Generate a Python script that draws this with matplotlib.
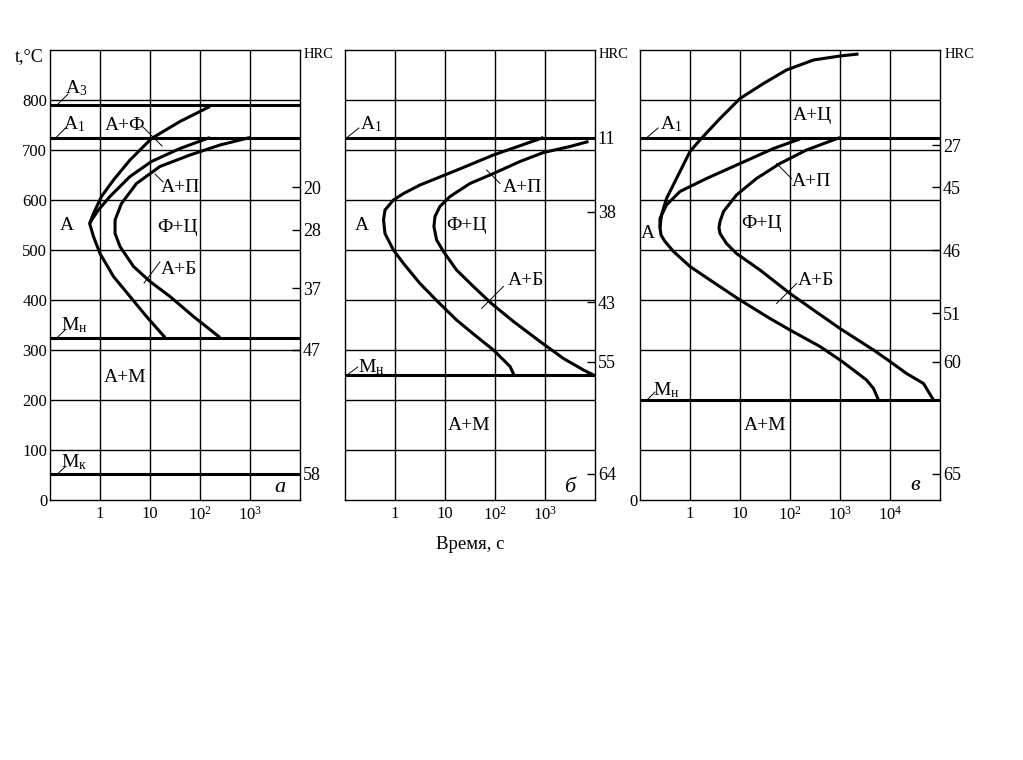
import matplotlib
matplotlib.use('Agg')
import matplotlib.pyplot as plt
from matplotlib.ticker import NullLocator

plt.rcParams['font.family'] = ['Liberation Serif', 'DejaVu Serif']
plt.rcParams['mathtext.fontset'] = 'custom'
plt.rcParams['mathtext.rm'] = 'Liberation Serif'
plt.rcParams['mathtext.it'] = 'Liberation Serif:italic'

# ---------------- data ----------------
temp_ticks = [0, 100, 200, 300, 400, 500, 600, 700, 800]
temp_grid = [100, 200, 300, 400, 500, 600, 700, 800]

x_ticks_ab = [1, 10, 100, 1000]
x_labels_ab = ['1', '10', r'$\mathregular{10^2}$', r'$\mathregular{10^3}$']
x_ticks_c = [1, 10, 100, 1000, 10000]
x_labels_c = ['1', '10', r'$\mathregular{10^2}$', r'$\mathregular{10^3}$', r'$\mathregular{10^4}$']

# panel a
a_A3 = 790
a_A1 = 725
a_Mn = 325
a_Mk = 52
a_start1_t = [158, 39.8, 10.7, 3.98, 1.86, 1.07, 0.74, 0.62, 0.74, 1.0, 1.86, 3.98, 8.5, 20]
a_start1_T = [787, 757, 723, 680, 640, 607, 573, 553, 527, 493, 447, 407, 367, 325]
a_start2_t = [158, 39.8, 10.7, 3.98, 1.58, 0.93, 0.68, 0.62]
a_start2_T = [725, 703, 677, 647, 607, 580, 560, 553]
a_end_t = [1000, 251, 63, 15.8, 5.37, 2.69, 2.0, 2.0, 2.51, 4.68, 10, 25.1, 74, 251]
a_end_T = [725, 710, 690, 667, 633, 593, 560, 533, 507, 467, 437, 407, 367, 325]
a_hrc_T = [626, 540, 424, 300, 52]
a_hrc = ['20', '28', '37', '47', '58']

# panel b
b_A1 = 725
b_Mn = 250
b_start_t = [933, 93, 14.8, 3.16, 1.48, 0.93, 0.63, 0.59, 0.63, 0.93, 1.48, 3.16, 6.8,
             17, 42.7, 93, 148, 200, 240]
b_start_T = [725, 690, 657, 630, 613, 600, 580, 560, 533, 500, 473, 433, 399,
             360, 327, 300, 280, 267, 250]
b_end_t = [7400, 3160, 933, 316, 93, 31.6, 12.6, 7.9, 6.3, 6.0, 6.8, 9.3, 17, 37, 85,
           234, 794, 2340, 5890, 9330]
b_end_T = [717, 707, 695, 677, 653, 633, 607, 587, 567, 547, 520, 497, 460, 427, 393,
           357, 317, 283, 260, 250]
b_hrc_T = [724, 576, 396, 276, 52]
b_hrc = ['11', '38', '43', '55', '64']

# panel c
c_A1 = 725
c_Mn = 200
c_start1_t = [2340, 1000, 295, 85, 29.5, 10, 3.98, 1.58, 1.0, 0.537, 0.339, 0.269, 0.251,
              0.263, 0.316, 0.468, 1.0, 2.51, 10, 39.8, 100, 398, 1000, 1860, 3390, 4680, 5890]
c_start1_T = [892, 888, 880, 860, 833, 803, 763, 720, 697, 643, 603, 570, 545,
              530, 517, 497, 467, 440, 400, 363, 340, 307, 280, 260, 240, 223, 200]
c_start2_t = [158, 46.8, 10, 2.14, 0.63, 0.339, 0.251, 0.251]
c_start2_T = [722, 703, 673, 643, 617, 590, 563, 545]
c_end_t = [1000, 214, 63, 21.4, 8.5, 4.68, 3.98, 3.8, 3.98, 5.37, 8.5, 25.1, 100, 295,
           1000, 4680, 10000, 21400, 46800, 74100]
c_end_T = [725, 700, 673, 643, 610, 577, 557, 545, 533, 513, 493, 460, 413, 380,
           343, 300, 277, 253, 233, 200]
c_hrc_T = [710, 626, 500, 374, 276, 52]
c_hrc = ['27', '45', '46', '51', '60', '65']

# ---------------- figure ----------------
W, H = 1023, 760
fig = plt.figure(figsize=(W / 100, H / 100), dpi=100)

CURVE_LW = 2.2
GRID_LW = 1.0
FS_TICK = 12
FS_HRC = 13
FS_LAB = 14


def make_axes(left_px, width_px, xmax, xticks, xlabels, hrc_T, hrc_lab, show_left):
    ax = fig.add_axes([left_px / W, (H - 500) / H, width_px / W, 450 / H])
    ax.set_xscale('log')
    ax.set_xlim(0.1, xmax)
    ax.set_ylim(0, 900)
    ax.xaxis.set_minor_locator(NullLocator())
    ax.yaxis.set_minor_locator(NullLocator())
    ax.set_xticks(xticks)
    ax.set_xticklabels(xlabels, fontsize=FS_TICK)
    for xv in xticks:
        ax.axvline(xv, color='black', lw=GRID_LW, zorder=1)
    for yv in temp_grid:
        ax.axhline(yv, color='black', lw=GRID_LW, zorder=1)
    if show_left == 'all':
        ax.set_yticks(temp_ticks)
        ax.set_yticklabels([str(v) for v in temp_ticks], fontsize=FS_TICK)
    elif show_left == 'zero':
        ax.set_yticks([0])
        ax.set_yticklabels(['0'], fontsize=FS_TICK)
    else:
        ax.set_yticks([])
    ax.tick_params(axis='x', length=0, pad=4)
    ax.tick_params(axis='y', length=0, pad=2)
    for s in ax.spines.values():
        s.set_linewidth(1.0)
    ax2 = ax.twinx()
    ax2.set_ylim(0, 900)
    ax2.yaxis.set_minor_locator(NullLocator())
    ax2.set_yticks(hrc_T)
    ax2.set_yticklabels(hrc_lab, fontsize=FS_HRC)
    ax2.tick_params(axis='y', direction='in', length=6, width=1.0, pad=2)
    for s in ax2.spines.values():
        s.set_visible(False)
    ax.text(1.015, (900 - 9) / 900, 'HRC', transform=ax.transAxes, ha='left', va='center',
            fontsize=10.5)
    return ax


def hline(ax, y):
    ax.axhline(y, color='black', lw=CURVE_LW, zorder=3)


def curve(ax, t, T):
    ax.plot(t, T, color='black', lw=CURVE_LW, solid_joinstyle='round',
            solid_capstyle='butt', zorder=4)


def lab(ax, x, y, s, fs=FS_LAB, **kw):
    ax.text(x, y, s, ha='center', va='center', fontsize=fs, zorder=5, **kw)


def leader(ax, xs, ys):
    ax.plot(xs, ys, color='black', lw=0.7, zorder=5)


# ---- panel a ----
ax_a = make_axes(50, 250, 1e4, x_ticks_ab, x_labels_ab, a_hrc_T, a_hrc, 'all')
for y in (a_A3, a_A1, a_Mn, a_Mk):
    hline(ax_a, y)
curve(ax_a, a_start1_t, a_start1_T)
curve(ax_a, a_start2_t, a_start2_T)
curve(ax_a, a_end_t, a_end_T)
lab(ax_a, 0.34, 824, r'А$_\mathregular{3}$')
leader(ax_a, [0.138, 0.23], [790, 812])
lab(ax_a, 0.31, 752, r'А$_\mathregular{1}$')
leader(ax_a, [0.132, 0.21], [725, 745])
lab(ax_a, 3.16, 750, 'А+Ф')
leader(ax_a, [7.24, 17.4], [746, 708])
lab(ax_a, 40, 626, 'А+П')
leader(ax_a, [12.6, 18.2], [652, 636])
lab(ax_a, 0.22, 548, 'А')
lab(ax_a, 35, 546, 'Ф+Ц')
lab(ax_a, 38, 462, 'А+Б')
leader(ax_a, [7.6, 15.8], [434, 476])
lab(ax_a, 0.31, 350, r'М$_\mathregular{н}$')
leader(ax_a, [0.14, 0.2], [325, 340])
lab(ax_a, 3.16, 244, 'А+М')
lab(ax_a, 0.3, 76, r'М$_\mathregular{к}$')
leader(ax_a, [0.14, 0.2], [52, 66])
lab(ax_a, 4000, 24, 'а', fs=16, style='italic')

# ---- panel b ----
ax_b = make_axes(345, 250, 1e4, x_ticks_ab, x_labels_ab, b_hrc_T, b_hrc, 'none')
for y in (b_A1, b_Mn):
    hline(ax_b, y)
curve(ax_b, b_start_t, b_start_T)
curve(ax_b, b_end_t, b_end_T)
lab(ax_b, 0.34, 752, r'А$_\mathregular{1}$')
leader(ax_b, [0.11, 0.19], [725, 744])
lab(ax_b, 347, 626, 'А+П')
leader(ax_b, [68, 126], [660, 633])
lab(ax_b, 0.22, 548, 'А')
lab(ax_b, 27.5, 550, 'Ф+Ц')
lab(ax_b, 420, 440, 'А+Б')
leader(ax_b, [54, 147], [383, 427])
lab(ax_b, 0.34, 266, r'М$_\mathregular{н}$')
leader(ax_b, [0.11, 0.18], [250, 266])
lab(ax_b, 30, 150, 'А+М')
lab(ax_b, 3160, 26, 'б', fs=16, style='italic')
ax_b.set_xlabel('Время, с', fontsize=13.5, labelpad=9)

# ---- panel c ----
ax_c = make_axes(640, 300, 1e5, x_ticks_c, x_labels_c, c_hrc_T, c_hrc, 'zero')
for y in (c_A1, c_Mn):
    hline(ax_c, y)
curve(ax_c, c_start1_t, c_start1_T)
curve(ax_c, c_start2_t, c_start2_T)
curve(ax_c, c_end_t, c_end_T)
lab(ax_c, 0.42, 752, r'А$_\mathregular{1}$')
leader(ax_c, [0.138, 0.23], [725, 744])
lab(ax_c, 275, 770, 'А+Ц')
lab(ax_c, 275, 636, 'А+П')
leader(ax_c, [54, 107], [673, 643])
lab(ax_c, 0.145, 534, 'А')
lab(ax_c, 27.5, 554, 'Ф+Ц')
lab(ax_c, 330, 440, 'А+Б')
leader(ax_c, [54, 135], [393, 433])
lab(ax_c, 0.34, 220, r'М$_\mathregular{н}$')
leader(ax_c, [0.138, 0.2], [200, 216])
lab(ax_c, 31.6, 150, 'А+М')
lab(ax_c, 31600, 28, 'в', fs=16, style='italic')

fig.text(15 / W, 1 - 57 / H, 't,°C', ha='left', va='center', fontsize=13)

fig.savefig('out.png', dpi=100)
